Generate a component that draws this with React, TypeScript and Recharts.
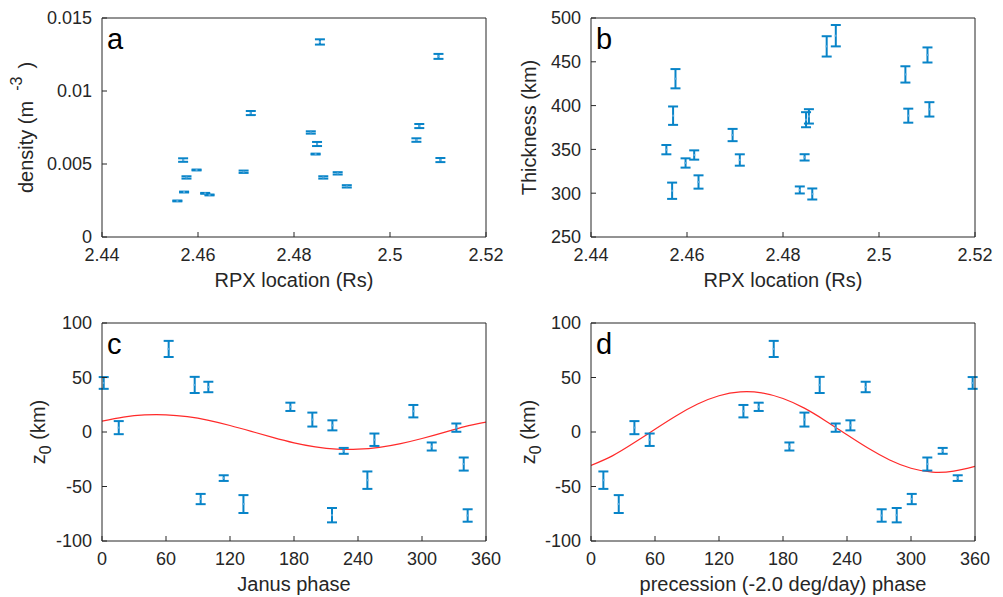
import React from "react";
import { ComposedChart, Scatter, Line, XAxis, YAxis, ErrorBar } from "recharts";

const FONT = '"Liberation Sans", Arial, Helvetica, sans-serif';
const AXIS = "#262626";
const BLUE = "#0884c8";
const RED = "#ff2a2a";

// panels a and b: RPX location (Rs)
const rpxLocation = [
  2.4557, 2.4569, 2.4571, 2.4576, 2.4597, 2.4615, 2.4624, 2.4695, 2.471, 2.4835,
  2.4845, 2.4848, 2.4854, 2.4861, 2.4891, 2.491, 2.5055, 2.5061, 2.5101, 2.5105,
];
const density = [
  0.00247, 0.00527, 0.00308, 0.00408, 0.00459, 0.00299, 0.00288, 0.00447, 0.00849, 0.00716,
  0.00568, 0.00637, 0.01336, 0.00408, 0.00436, 0.00347, 0.00664, 0.0076, 0.01237, 0.00527,
];
const densityErr = [
  0.00003, 0.00012, 0.00003, 0.00008, 0.00003, 0.00003, 0.00003, 0.00008, 0.00014, 0.00008,
  0.00003, 0.00014, 0.00018, 0.00008, 0.00008, 0.00008, 0.00012, 0.00014, 0.00017, 0.00014,
];
const thickness = [
  349.7, 302.8, 388.5, 430.7, 334.5, 343.6, 312.8, 366.4, 337.9, 303.7,
  340.9, 383.9, 387.7, 299.1, 467.6, 479.8, 435.6, 388.5, 457.8, 395.7,
];
const thicknessErr = [
  5.3, 9.3, 10.5, 11, 5.3, 5.3, 7.6, 7.0, 6.5, 4.0,
  3.6, 8.6, 8.2, 6.3, 11.6, 12.2, 9.3, 8.0, 8.6, 8.2,
];

// panels c and d: same z0 measurements against two phases
const janusPhase = [
  1.6, 15.7, 62.5, 86.9, 92.5, 99.7, 114.1, 132.6, 176.6, 197.2,
  216.0, 215.6, 226.6, 248.8, 255.4, 291.9, 309.1, 332.2, 339.1, 342.8,
];
const precessionPhase = [
  357.8, 40.7, 171.3, 214.4, 300.7, 257.5, 343.8, 26.0, 157.2, 200.1,
  243.2, 286.6, 329.7, 11.6, 55.0, 142.9, 186.0, 229.4, 315.3, 272.5,
];
const z0 = [
  45.0, 4.0, 76.2, 43.2, -61.5, 41.3, -42.3, -66.1, 23.1, 11.4,
  6.1, -76.3, -17.3, -44.2, -7.1, 19.1, -13.3, 4.0, -29.4, -76.6,
];
const z0Err = [
  5.4, 6.0, 7.4, 7.4, 4.7, 4.8, 2.6, 8.2, 3.8, 6.4,
  4.6, 6.6, 2.7, 8.0, 5.7, 5.7, 3.7, 3.8, 6.0, 5.7,
];

// red fitted curves, read every 20 degrees
const fitPhase = [0, 20, 40, 60, 80, 100, 120, 140, 160, 180, 200, 220, 240, 260, 280, 300, 320, 340, 360];
const janusFit = [9.9, 13.6, 15.7, 15.8, 14.1, 10.7, 6.0, 0.6, -4.9, -9.9, -13.6, -15.7, -15.8, -14.1, -10.7, -6.0, -0.6, 4.9, 9.0];
const precessionFit = [-30.7, -21.9, -10.2, 2.6, 15.0, 25.7, 33.3, 36.8, 35.9, 30.7, 21.9, 10.2, -2.6, -15.0, -25.7, -33.3, -36.8, -35.9, -31.5];

const rpxTicks = [2.44, 2.46, 2.48, 2.5, 2.52];
const densityTicks = [0, 0.005, 0.01, 0.015];
const thicknessTicks = [250, 300, 350, 400, 450, 500];
const phaseTicks = [0, 60, 120, 180, 240, 300, 360];
const z0Ticks = [-100, -50, 0, 50, 100];

const zip = (xs: number[], ys: number[], es: number[]) => xs.map((x, i) => ({ x, y: ys[i], e: es[i] }));
const curve = (xs: number[], ys: number[]) => xs.map((x, i) => ({ x, y: ys[i] }));

const CenterDot = (props: any) => {
  const { cx, cy } = props;
  if (cx == null || cy == null) return null;
  return <rect x={cx - 1} y={cy - 1} width={2} height={2} fill="#5aaade" />;
};

const tickStyle = { fill: AXIS, fontSize: 18, fontFamily: FONT };

type PanelProps = {
  plotLeft: number;
  plotTop: number;
  plotH: number;
  letter: string;
  xDomain: [number, number];
  xTicks: number[];
  yDomain: [number, number];
  yTicks: number[];
  points: { x: number; y: number; e: number }[];
  fit?: { x: number; y: number }[];
  xLabel: string;
  yLabel: React.ReactNode;
  yLabelX: number;
};

const PLOT_W = 384;
const LEFT_W = 102;
const RIGHT_PAD = 28;

function Panel(p: PanelProps) {
  const width = LEFT_W + PLOT_W + RIGHT_PAD;
  const height = 18 + p.plotH + 56;

  const bottomLabel = (props: any) => {
    const vb = props.viewBox;
    return (
      <text x={vb.x + vb.width / 2} y={vb.y + 50} textAnchor="middle" fontSize={20} fill={AXIS} fontFamily={FONT}>
        {p.xLabel}
      </text>
    );
  };
  const sideLabel = (props: any) => {
    const vb = props.viewBox;
    const cx = p.yLabelX;
    const cy = vb.y + vb.height / 2;
    return (
      <text x={cx} y={cy} transform={`rotate(-90, ${cx}, ${cy})`} textAnchor="middle" fontSize={20} fill={AXIS} fontFamily={FONT}>
        {p.yLabel}
      </text>
    );
  };
  const letterLabel = (props: any) => {
    const vb = props.viewBox;
    return (
      <text x={vb.x + 5} y={vb.y + 32} fontSize={29} fill="#000" fontFamily={FONT}>
        {p.letter}
      </text>
    );
  };

  return (
    <div style={{ position: "absolute", left: p.plotLeft - LEFT_W, top: p.plotTop - 18, width, height }}>
      <ComposedChart width={width} height={height} margin={{ top: 17, right: RIGHT_PAD - 1, bottom: 0, left: 0 }}>
        <XAxis
          xAxisId="b"
          dataKey="x"
          type="number"
          domain={p.xDomain}
          ticks={p.xTicks}
          interval={0}
          allowDataOverflow
          height={56}
          stroke={AXIS}
          tickSize={-5}
          tickMargin={16}
          tick={tickStyle}
          label={bottomLabel}
        />
        <XAxis
          xAxisId="t"
          orientation="top"
          dataKey="x"
          type="number"
          domain={p.xDomain}
          ticks={p.xTicks}
          interval={0}
          allowDataOverflow
          height={1}
          stroke={AXIS}
          tickSize={-5}
          tick={false}
          label={letterLabel}
        />
        <YAxis
          yAxisId="l"
          dataKey="y"
          type="number"
          domain={p.yDomain}
          ticks={p.yTicks}
          interval={0}
          allowDataOverflow
          width={LEFT_W}
          stroke={AXIS}
          tickSize={-5}
          tickMargin={15}
          tick={tickStyle}
          label={sideLabel}
        />
        <YAxis
          yAxisId="r"
          orientation="right"
          dataKey="y"
          type="number"
          domain={p.yDomain}
          ticks={p.yTicks}
          interval={0}
          allowDataOverflow
          width={1}
          stroke={AXIS}
          tickSize={-5}
          tick={false}
        />
        {p.fit && (
          <Line
            xAxisId="b"
            yAxisId="l"
            data={p.fit}
            dataKey="y"
            type="natural"
            stroke={RED}
            strokeWidth={1.2}
            dot={false}
            activeDot={false}
            isAnimationActive={false}
          />
        )}
        <Scatter xAxisId="b" yAxisId="l" data={p.points} dataKey="y" shape={<CenterDot />} isAnimationActive={false}>
          <ErrorBar dataKey="e" direction="y" width={5} stroke={BLUE} strokeWidth={2} isAnimationActive={false} />
        </Scatter>
      </ComposedChart>
    </div>
  );
}

export default function App() {
  return (
    <div style={{ position: "absolute", left: 0, top: 0, width: 1003, height: 597, overflow: "hidden", background: "#fff" }}>
      <Panel
        plotLeft={102}
        plotTop={18}
        plotH={219}
        letter="a"
        xDomain={[2.44, 2.52]}
        xTicks={rpxTicks}
        yDomain={[0, 0.015]}
        yTicks={densityTicks}
        points={zip(rpxLocation, density, densityErr)}
        xLabel="RPX location (Rs)"
        yLabel={
          <>
            density (m
            <tspan dx={10} dy={-11} fontSize={16}>-3</tspan>
            <tspan dx={8} dy={11}>)</tspan>
          </>
        }
        yLabelX={33}
      />
      <Panel
        plotLeft={591}
        plotTop={18}
        plotH={219}
        letter="b"
        xDomain={[2.44, 2.52]}
        xTicks={rpxTicks}
        yDomain={[250, 500]}
        yTicks={thicknessTicks}
        points={zip(rpxLocation, thickness, thicknessErr)}
        xLabel="RPX location (Rs)"
        yLabel="Thickness (km)"
        yLabelX={47}
      />
      <Panel
        plotLeft={102}
        plotTop={323}
        plotH={218}
        letter="c"
        xDomain={[0, 360]}
        xTicks={phaseTicks}
        yDomain={[-100, 100]}
        yTicks={z0Ticks}
        points={zip(janusPhase, z0, z0Err)}
        fit={curve(fitPhase, janusFit)}
        xLabel="Janus phase"
        yLabel={
          <>
            z<tspan dy={6} fontSize={16}>0</tspan>
            <tspan dy={-6}> (km)</tspan>
          </>
        }
        yLabelX={45}
      />
      <Panel
        plotLeft={591}
        plotTop={323}
        plotH={218}
        letter="d"
        xDomain={[0, 360]}
        xTicks={phaseTicks}
        yDomain={[-100, 100]}
        yTicks={z0Ticks}
        points={zip(precessionPhase, z0, z0Err)}
        fit={curve(fitPhase, precessionFit)}
        xLabel="precession (-2.0 deg/day) phase"
        yLabel={
          <>
            z<tspan dy={6} fontSize={16}>0</tspan>
            <tspan dy={-6}> (km)</tspan>
          </>
        }
        yLabelX={46}
      />
    </div>
  );
}
